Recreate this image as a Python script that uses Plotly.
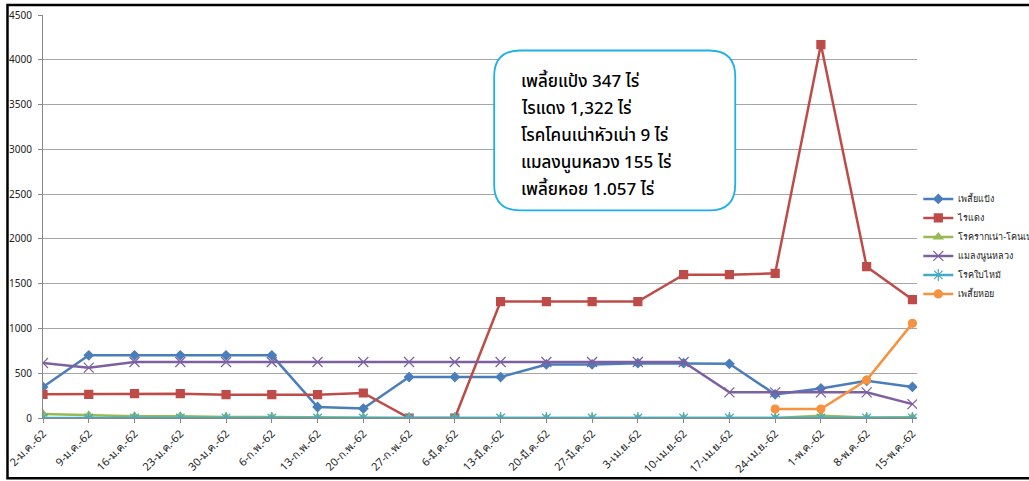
import plotly.graph_objects as go

categories = ["2-ม.ค.-62", "9-ม.ค.-62", "16-ม.ค.-62", "23-ม.ค.-62", "30-ม.ค.-62",
              "6-ก.พ.-62", "13-ก.พ.-62", "20-ก.พ.-62", "27-ก.พ.-62", "6-มี.ค.-62",
              "13-มี.ค.-62", "20-มี.ค.-62", "27-มี.ค.-62", "3-เม.ย.-62", "10-เม.ย.-62",
              "17-เม.ย.-62", "24-เม.ย.-62", "1-พ.ค.-62", "8-พ.ค.-62", "15-พ.ค.-62"]

mealybug = [346, 700, 700, 700, 700, 700, 123, 105, 457, 457,
            457, 598, 598, 612, 612, 605, 264, 330, 416, 347]
red_mite = [264, 264, 272, 272, 261, 261, 261, 279, 0, 0,
            1300, 1300, 1300, 1300, 1600, 1600, 1615, 4170, 1690, 1322]
root_rot = [45, 30, 20, 20, 10, 10, 5, 5, 0, 0,
            0, 0, 0, 0, 0, 0, 0, 25, 5, 9]
beetle = [614, 562, 625, 625, 625, 625, 625, 625, 625, 625,
          625, 625, 625, 625, 625, 287, 287, 287, 287, 155]
leaf_blight = [0] * 20
scale_insect = [None] * 16 + [100, 100, 424, 1057]

series_names = ["เพลี้ยแป้ง", "ไรแดง", "โรครากเน่า-โคนเน่า", "แมลงนูนหลวง", "โรคใบไหม้", "เพลี้ยหอย"]
series_values = [mealybug, red_mite, root_rot, beetle, leaf_blight, scale_insect]
y_ticks = [0, 500, 1000, 1500, 2000, 2500, 3000, 3500, 4000, 4500]

box_lines = ["เพลี้ยแป้ง 347 ไร่", "ไรแดง 1,322 ไร่", "โรคโคนเน่าหัวเน่า 9 ไร่",
             "แมลงนูนหลวง 155 ไร่", "เพลี้ยหอย 1.057 ไร่"]

colors = ["#4A7EBB", "#BE4B48", "#98B954", "#7D60A0", "#46AAC5", "#F69240"]
symbols = ["diamond", "square", "triangle-up", "x-thin-open", "asterisk-open", "circle"]
msizes = [7, 8, 8, 10, 10, 8]

W, H = 1029, 481
L, R_EDGE = 43, 916.7
TOP, BOT = 14.5, 417.7
PW, PH = R_EDGE - L, BOT - TOP


def px(x):
    return (x - L) / PW


def py(y):
    return (BOT - y) / PH


fig = go.Figure()
for name, vals, c, s, ms in zip(series_names, series_values, colors, symbols, msizes):
    fig.add_trace(go.Scatter(
        x=list(range(len(categories))), y=vals, name=name, mode="lines+markers",
        line=dict(color=c, width=2.5),
        marker=dict(symbol=s, size=ms, color=c, line=dict(color=c, width=1.2)),
        connectgaps=False,
    ))

# rounded annotation box
x0, x1, y0, y1, r = px(494), px(735), py(50), py(210), 26
rx, ry = r / PW, r / PH
path = (f"M {x0+rx},{y0} L {x1-rx},{y0} Q {x1},{y0} {x1},{y0-ry} "
        f"L {x1},{y1+ry} Q {x1},{y1} {x1-rx},{y1} L {x0+rx},{y1} "
        f"Q {x0},{y1} {x0},{y1+ry} L {x0},{y0-ry} Q {x0},{y0} {x0+rx},{y0} Z")
shapes = [
    dict(type="path", xref="paper", yref="paper", path=path,
         line=dict(color="#1FB0EA", width=1.8), fillcolor="white", layer="above"),
    dict(type="rect", xref="paper", yref="paper", x0=px(7.5), x1=px(1040), y0=py(4.5), y1=py(478),
         line=dict(color="black", width=2.5), fillcolor="rgba(0,0,0,0)"),
]

annotations = []
for i, t in enumerate(box_lines):
    annotations.append(dict(
        xref="paper", yref="paper", x=px(519), y=py(82 + 27 * i), text=t,
        showarrow=False, xanchor="left", yanchor="middle",
        font=dict(family="Noto Sans Thai, Tahoma, Noto Sans, sans-serif", size=17,
                  color="black", weight=500),
    ))

fig.update_layout(
    width=W, height=H,
    margin=dict(l=L, r=W - R_EDGE, t=TOP, b=H - BOT, autoexpand=False),
    paper_bgcolor="white", plot_bgcolor="white",
    font=dict(family="Tahoma, Noto Sans, sans-serif", size=10, color="#222"),
    showlegend=True,
    legend=dict(x=px(918), y=py(184), xanchor="left", yanchor="top",
                font=dict(size=9, color="#222"), bgcolor="rgba(0,0,0,0)",
                itemwidth=30, tracegroupgap=0),
    shapes=shapes,
    annotations=annotations,
    xaxis=dict(
        range=[0, 19.1], tickmode="array", tickvals=list(range(len(categories))),
        ticktext=categories, tickangle=-45, showgrid=False, zeroline=False,
        showline=True, linecolor="#888", linewidth=1, ticks="outside", ticklen=4,
        tickcolor="#888", tickfont=dict(size=11),
    ),
    yaxis=dict(
        range=[0, 4500], tickmode="array", tickvals=y_ticks, showgrid=True,
        gridcolor="#A6A6A6", gridwidth=1.2, zeroline=False, showline=True,
        linecolor="#888", linewidth=1, ticks="outside", ticklen=4, tickcolor="#888",
        tickfont=dict(size=10), ticklabelstandoff=4,
    ),
)

fig.write_html("out.html", config={"displayModeBar": False},
               post_script="document.body.style.margin='0px';")
